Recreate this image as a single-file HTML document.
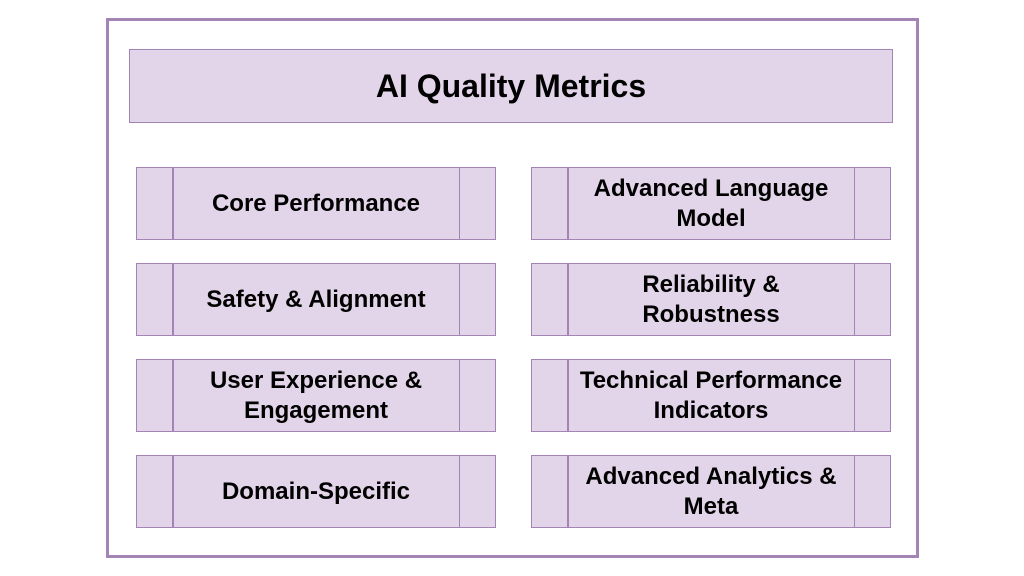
<!DOCTYPE html>
<html><head><style>
body{margin:0;width:1024px;height:576px;background:#fff;position:relative;font-family:"Liberation Sans",sans-serif;overflow:hidden}
.f{position:absolute;left:106px;top:18px;width:807px;height:534px;border:3px solid #a384b5}
.t{position:absolute;left:129px;top:49px;width:762px;height:72px;border:1.5px solid #a384b5;background:#e3d5e9;display:flex;align-items:center;justify-content:center;font-weight:bold;font-size:32px;color:#000}
.b{position:absolute;width:358px;height:71px;border:1.5px solid #a384b5;background:#e3d5e9}
.b:before,.b:after{content:"";position:absolute;top:0;bottom:0;width:1.5px;background:#a384b5}
.b:before{left:35px}.b:after{right:35px}
.b span{position:absolute;left:30px;right:30px;top:0;bottom:0;display:flex;align-items:center;justify-content:center;text-align:center;font-weight:bold;font-size:24px;line-height:30px;color:#000}
</style></head><body>
<div class="f"></div>
<div class="t">AI Quality Metrics</div>
<div class="b" style="left:136px;top:167px"><span>Core Performance</span></div>
<div class="b" style="left:531px;top:167px"><span>Advanced Language<br>Model</span></div>
<div class="b" style="left:136px;top:263px"><span>Safety &amp; Alignment</span></div>
<div class="b" style="left:531px;top:263px"><span>Reliability &amp;<br>Robustness</span></div>
<div class="b" style="left:136px;top:359px"><span>User Experience &amp;<br>Engagement</span></div>
<div class="b" style="left:531px;top:359px"><span>Technical Performance<br>Indicators</span></div>
<div class="b" style="left:136px;top:455px"><span>Domain-Specific</span></div>
<div class="b" style="left:531px;top:455px"><span>Advanced Analytics &amp;<br>Meta</span></div>
</body></html>
